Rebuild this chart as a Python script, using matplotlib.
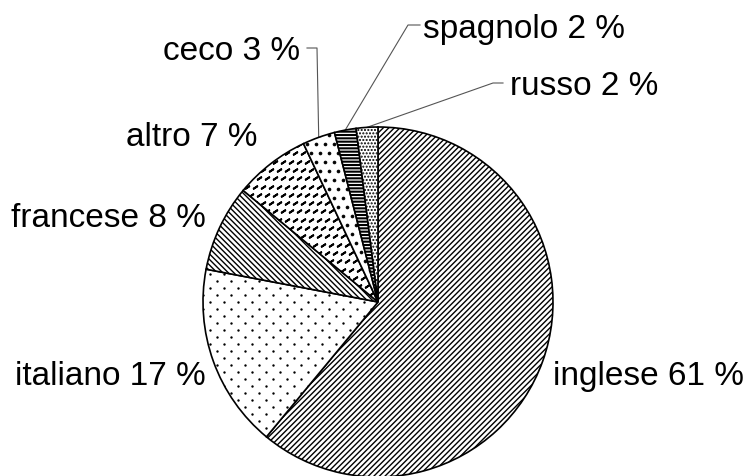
import numpy as np
import matplotlib
matplotlib.use("Agg")
import matplotlib.pyplot as plt

plt.rcParams['font.family'] = ['Liberation Sans', 'DejaVu Sans']
plt.rcParams['hatch.linewidth'] = 1.0

# data (percent of total, clockwise from top)
languages = ['inglese', 'italiano', 'francese', 'altro', 'ceco', 'spagnolo', 'russo']
shares = [61, 17, 8, 7, 3, 2, 2]
hatches = ['//////', '', '\\\\\\\\\\\\', '', '', '-----', '.....']

# label placement in image pixels (x, baseline y), alignment
label_x = [553, 206, 206, 257, 300, 423, 510]
label_y = [385, 385, 227, 146, 60, 38, 95]
label_ha = ['left', 'right', 'right', 'right', 'right', 'left', 'left']
# leader lines: text end -> elbow -> wedge edge
leaders = {
    'ceco': [(307, 48), (317, 48)],
    'spagnolo': [(420, 25), (408, 25)],
    'russo': [(503, 83), (493, 83)],
}

W, H = 751, 476
fig = plt.figure(figsize=(W / 100, H / 100), dpi=100)
ax = fig.add_axes([0, 0, 1, 1])

cx, cy, r = 378, H - 302, 175
wedges, _ = ax.pie(shares, startangle=90, counterclock=False, center=(cx, cy), radius=r,
                   hatch=hatches,
                   wedgeprops=dict(facecolor='white', edgecolor='black', linewidth=1.2))
for w in wedges:
    w.set_zorder(2)
spag = wedges[languages.index('spagnolo')]
if hasattr(spag, 'set_hatch_linewidth'):
    spag.set_hatch_linewidth(1.5)


def texture(wedge, dx, dy, marker, size, lw):
    # fill a wedge with a repeated small mark (staggered rows), clipped to it
    pts = []
    for i, y in enumerate(np.arange(cy - r, cy + r, dy)):
        off = dx / 2 if i % 2 else 0
        for x in np.arange(cx - r + off, cx + r, dx):
            pts.append((x, y))
    pts = np.array(pts)
    sc = ax.scatter(pts[:, 0], pts[:, 1], marker=marker, s=size, c='black',
                    linewidths=lw, zorder=3)
    sc.set_clip_path(wedge)


texture(wedges[languages.index('italiano')], 14, 7, 'o', 3, 0)
texture(wedges[languages.index('altro')], 8, 8.3, (2, 2, -57), 9, 1.4)
texture(wedges[languages.index('ceco')], 9, 9, 'o', 4.5, 0.5)

# labels
for lang, share, x, y, ha in zip(languages, shares, label_x, label_y, label_ha):
    ax.text(x, H - y, f'{lang} {share} %', ha=ha, va='baseline', fontsize=24, color='black')

# leader lines for the small slices
for lang, pts in leaders.items():
    w = wedges[languages.index(lang)]
    t = np.deg2rad((w.theta1 + w.theta2) / 2)
    ex, ey = cx + r * np.cos(t), cy + r * np.sin(t)
    xs = [p[0] for p in pts] + [ex]
    ys = [H - p[1] for p in pts] + [ey]
    ax.plot(xs, ys, color='#555555', lw=0.8, zorder=1)

ax.set_xlim(0, W)
ax.set_ylim(0, H)
ax.axis('off')

plt.savefig('out.png', dpi=100)
